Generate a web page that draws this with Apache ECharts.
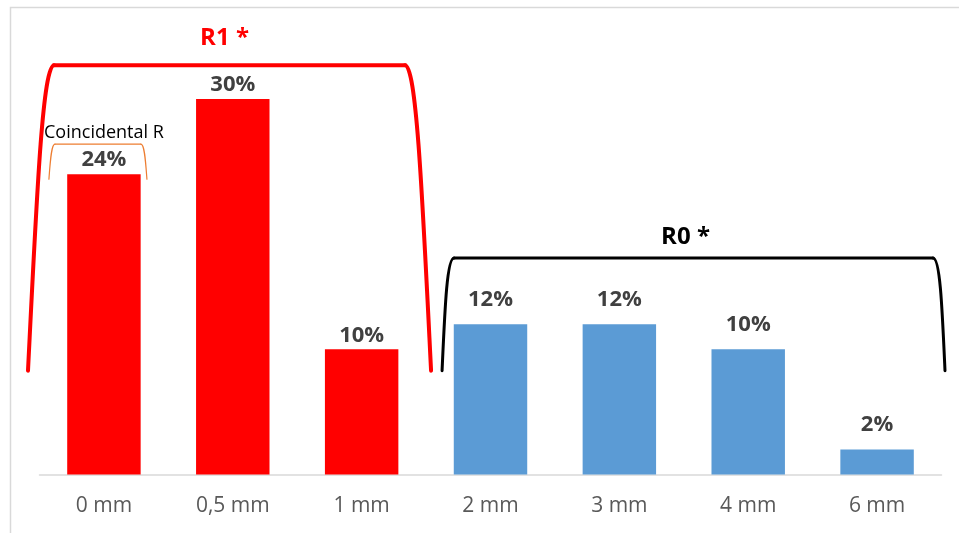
<!DOCTYPE html>
<html>
<head>
<meta charset="utf-8">
<script src="https://cdn.jsdelivr.net/npm/echarts@6/dist/echarts.min.js"></script>
<style>
  html, body { margin: 0; padding: 0; background: #fff; }
  #chart { width: 959px; height: 533px; }
</style>
</head>
<body>
<div id="chart"></div>
<script>
// Resection margin distance and share of cases
const categories = ['0 mm', '0,5 mm', '1 mm', '2 mm', '3 mm', '4 mm', '6 mm'];
const percentages = [24, 30, 10, 12, 12, 10, 2];
const groups = ['R1', 'R1', 'R1', 'R0', 'R0', 'R0', 'R0'];
const groupTitles = { R1: 'R1 *', R0: 'R0 *' };
const noteText = 'Coincidental R';

const groupColors = { R1: '#FF0000', R0: '#5B9BD5' };
const groupLabelGap = { R1: 3, R0: 14 };
const FONT = '"Open Sans", "Noto Sans", sans-serif';

const chart = echarts.init(document.getElementById('chart'));

const option = {
  animation: false,
  backgroundColor: '#ffffff',
  grid: { left: 39.5, right: 17.5, top: 24, bottom: 58.5 },
  xAxis: {
    type: 'category',
    data: categories,
    axisLine: { lineStyle: { color: '#D9D9D9', width: 1.5 } },
    axisTick: { show: false },
    axisLabel: { color: '#595959', fontFamily: FONT, fontSize: 21, margin: 21 }
  },
  yAxis: {
    type: 'value',
    min: 0,
    max: 36,
    show: false,
    splitLine: { show: false }
  },
  series: [{
    type: 'bar',
    barCategoryGap: '43%',
    data: percentages.map((v, i) => ({
      value: v,
      itemStyle: { color: groupColors[groups[i]] },
      label: { distance: groupLabelGap[groups[i]] }
    })),
    label: {
      show: true,
      position: 'top',
      formatter: '{c}%',
      color: '#404040',
      fontFamily: FONT,
      fontWeight: 'bold',
      fontSize: 22
    }
  }]
};

chart.setOption(option);

// Annotation brackets placed from the axis scales
function xAt(i) { return chart.convertToPixel({ xAxisIndex: 0 }, i); }
function yAt(v) { return chart.convertToPixel({ yAxisIndex: 0 }, v); }

// A bracket: two curved legs joined by a straight top edge
function bracket(x0, x1, yTop, yBottom, bend, inset, color, width) {
  const style = { stroke: color, lineWidth: width, fill: null, lineCap: 'round' };
  const mid = yTop + (yBottom - yTop) * 0.45;
  return [
    {
      type: 'bezierCurve', silent: true, style: style,
      shape: {
        x1: x0, y1: yBottom,
        cpx1: x0 + bend * 0.35, cpy1: mid,
        cpx2: x0 + bend * 0.6, cpy2: yTop,
        x2: x0 + inset, y2: yTop
      }
    },
    {
      type: 'line', silent: true, style: style,
      shape: { x1: x0 + inset, y1: yTop, x2: x1 - inset, y2: yTop }
    },
    {
      type: 'bezierCurve', silent: true, style: style,
      shape: {
        x1: x1 - inset, y1: yTop,
        cpx1: x1 - bend * 0.6, cpy1: yTop,
        cpx2: x1 - bend * 0.35, cpy2: mid,
        x2: x1, y2: yBottom
      }
    }
  ];
}

function indicesOf(g) {
  const out = [];
  groups.forEach((x, i) => { if (x === g) out.push(i); });
  return out;
}

const band = xAt(1) - xAt(0);
const r1 = indicesOf('R1');
const r0 = indicesOf('R0');

const r1Left = xAt(r1[0]) - band / 2 - 11.5;
const r1Right = xAt(r1[r1.length - 1]) + band / 2 + 5;
const r1Top = yAt(32.7);
const r0Left = xAt(r0[0]) - band / 2 + 16;
const r0Right = xAt(r0[r0.length - 1]) + band / 2 + 3.5;
const r0Top = yAt(17.3);
const bracketBottom = yAt(8.3);

const c0 = xAt(0);
const noteTop = yAt(26.4);
const noteBottom = yAt(23.6);

const graphics = [
  {
    type: 'rect',
    silent: true,
    shape: { x: 10.5, y: 7.5, width: 960, height: 540 },
    style: { fill: null, stroke: '#D9D9D9', lineWidth: 1.5 }
  }
]
  .concat(bracket(r1Left, r1Right, r1Top, bracketBottom, 24, 26, '#FF0000', 4))
  .concat(bracket(r0Left, r0Right, r0Top, bracketBottom, 8, 12, '#000000', 3))
  .concat(bracket(c0 - 55, c0 + 43, noteTop, noteBottom, 4, 6, '#ED7D31', 1.2))
  .concat([
    {
      type: 'text',
      silent: true,
      x: (r1Left + r1Right) / 2 - 5,
      y: r1Top - 27,
      style: {
        text: groupTitles.R1, fill: '#FF0000', font: 'bold 24px ' + FONT,
        textAlign: 'center', textVerticalAlign: 'middle'
      }
    },
    {
      type: 'text',
      silent: true,
      x: (r0Left + r0Right) / 2 - 8,
      y: r0Top - 21,
      style: {
        text: groupTitles.R0, fill: '#000000', font: 'bold 24px ' + FONT,
        textAlign: 'center', textVerticalAlign: 'middle'
      }
    },
    {
      type: 'text',
      silent: true,
      x: c0,
      y: noteTop - 11,
      style: {
        text: noteText, fill: '#000000', font: '18px ' + FONT,
        textAlign: 'center', textVerticalAlign: 'middle'
      }
    }
  ]);

chart.setOption({ graphic: graphics });
</script>
</body>
</html>
